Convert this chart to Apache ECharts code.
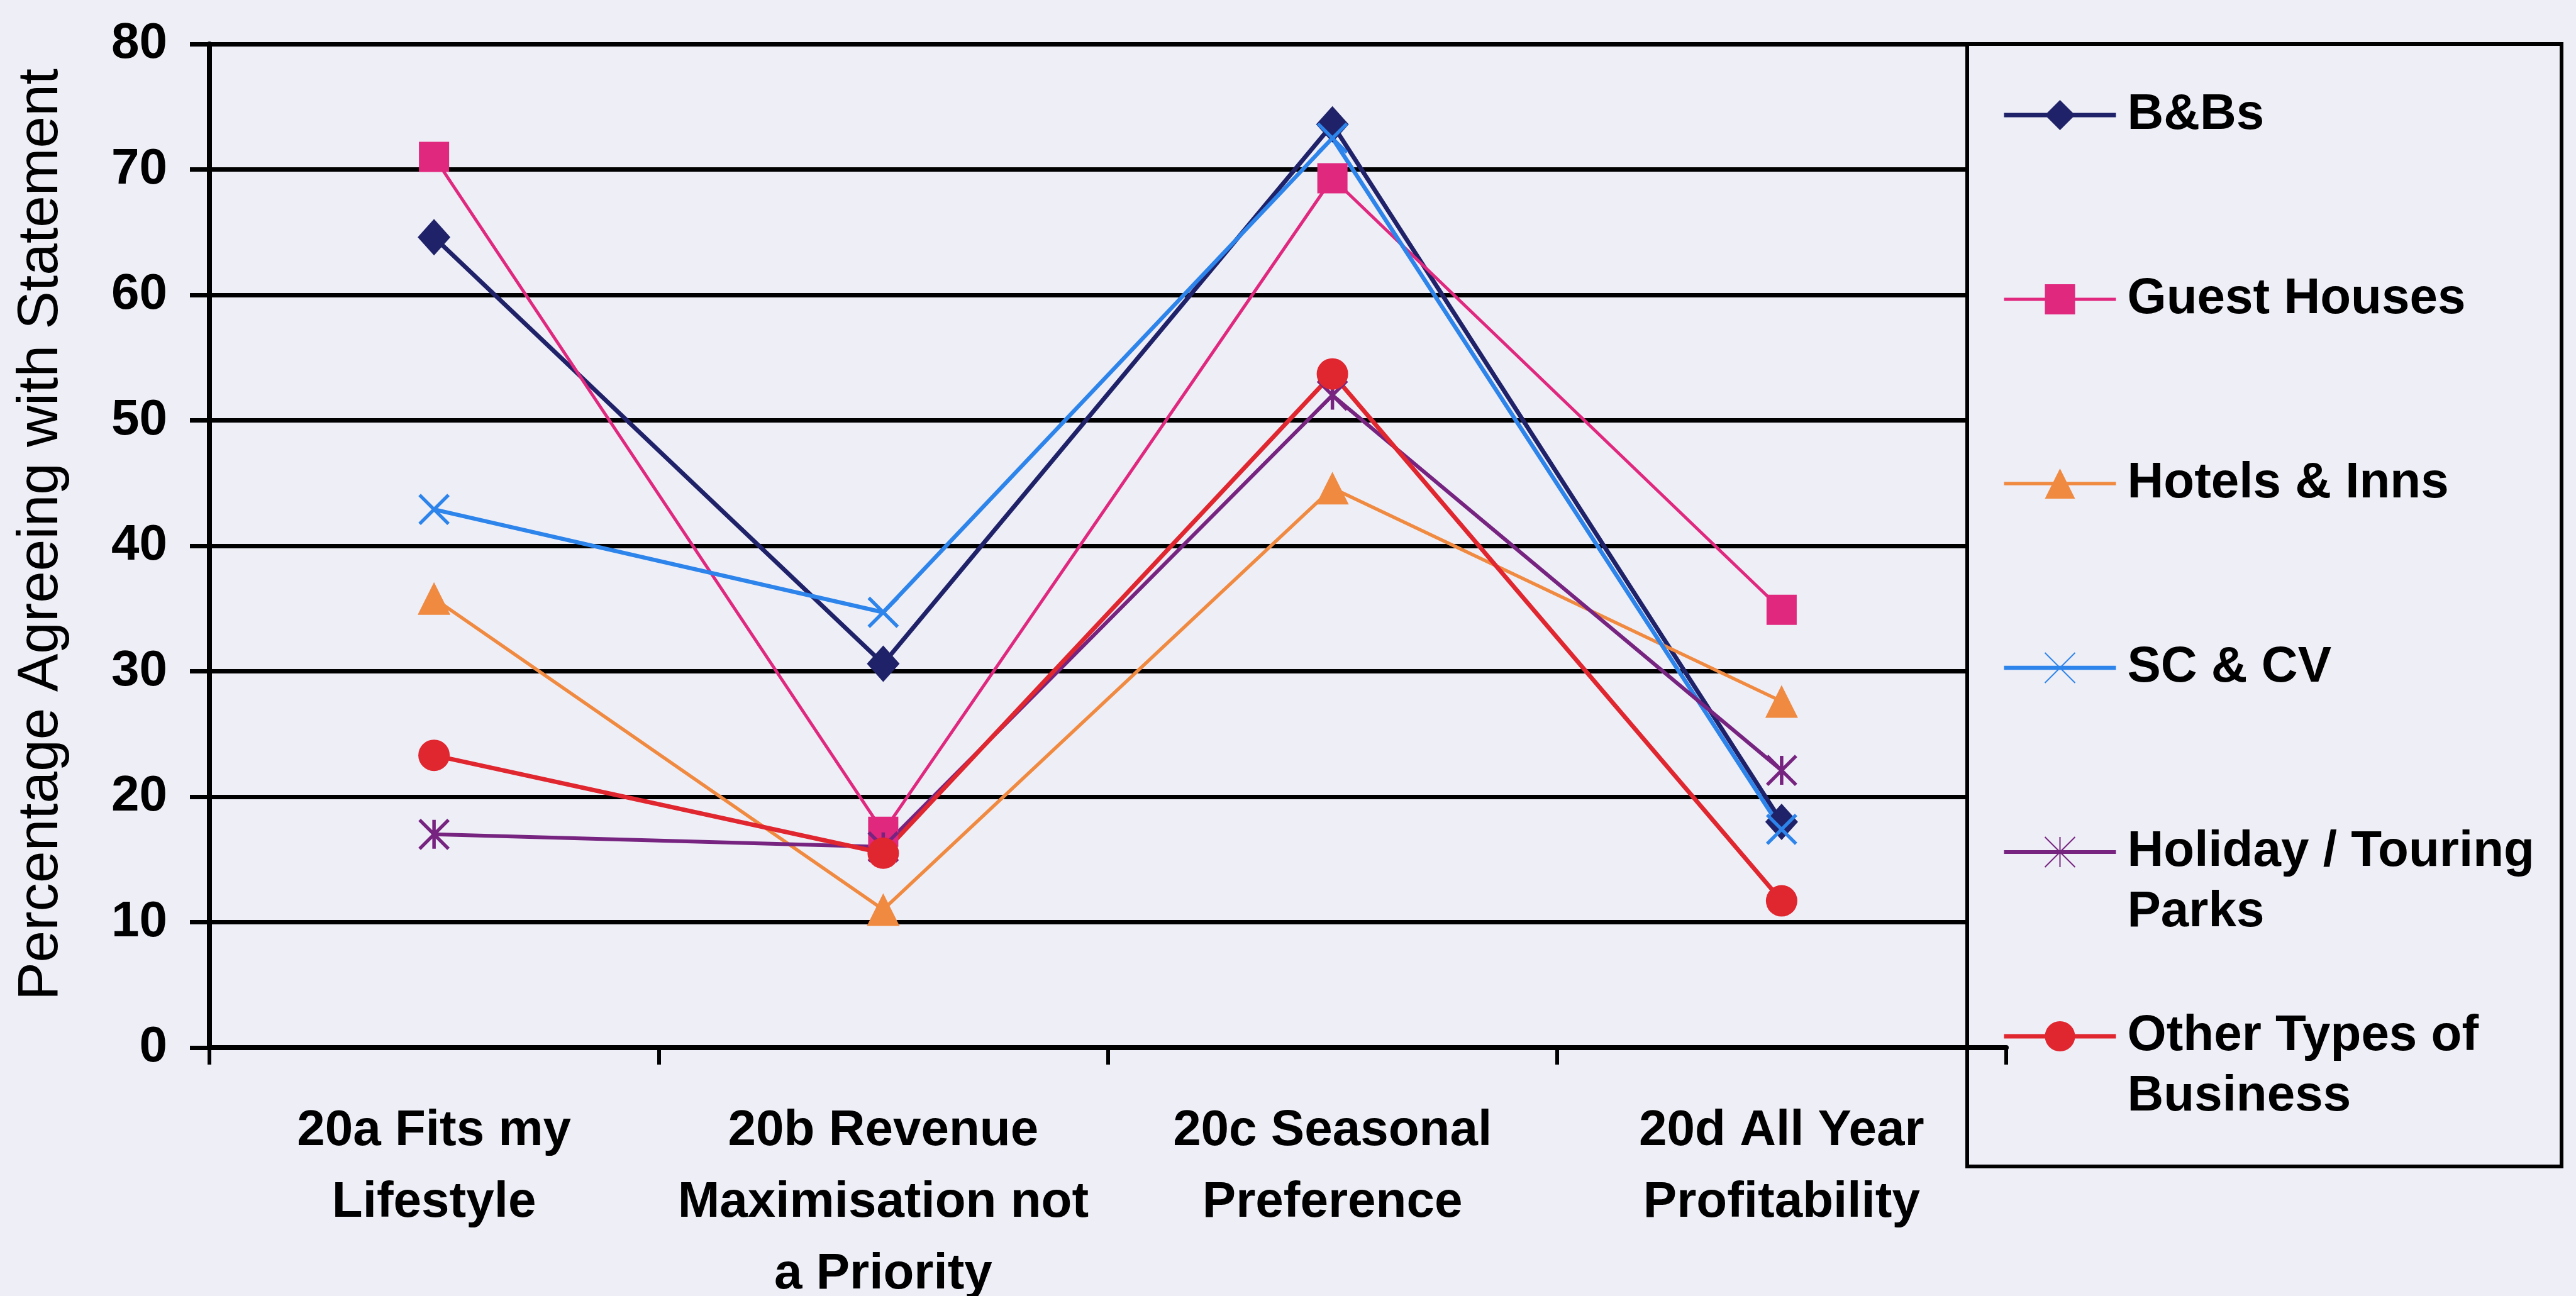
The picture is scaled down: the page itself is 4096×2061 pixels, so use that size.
<!DOCTYPE html>
<html>
<head>
<meta charset="utf-8">
<script src="https://cdn.jsdelivr.net/npm/echarts@6/dist/echarts.min.js"></script>
<style>
  html, body { margin: 0; padding: 0; background: #eeeef7; }
  #chart { width: 4096px; height: 2061px; }
</style>
</head>
<body>
<div id="chart"></div>
<script>
// Survey statements (x axis categories)
const categories = [
  '20a Fits my\nLifestyle',
  '20b Revenue\nMaximisation not\na Priority',
  '20c Seasonal\nPreference',
  '20d All Year\nProfitability'
];

// Value axis range
const yMin = 0;
const yMax = 80;
const yStep = 10;

// Percentage agreeing with each statement, by business type
const bnbs          = [64.6, 30.6, 73.6, 18.0];
const guestHouses   = [71.0, 17.2, 69.3, 34.9];
const hotelsInns    = [35.8, 11.0, 44.6, 27.6];
const scCv          = [42.9, 34.7, 72.5, 17.4];
const holidayParks  = [17.0, 16.0, 52.0, 22.1];
const otherBusiness = [23.3, 15.5, 53.7, 11.7];

const seriesNames = [
  'B&Bs',
  'Guest Houses',
  'Hotels & Inns',
  'SC & CV',
  'Holiday / Touring Parks',
  'Other Types of Business'
];
// How each legend entry wraps
const legendLines = {
  'Holiday / Touring Parks': ['Holiday / Touring', 'Parks'],
  'Other Types of Business': ['Other Types of', 'Business']
};

const FONT = 'Liberation Sans, Arial, Helvetica, sans-serif';
const BG = '#eeeef7';

const crossPath = 'path://M0,0L10,10M10,0L0,10';
const starPath = 'path://M0,0L10,10M10,0L0,10M5,0L5,10';

function lineSeries(name, data, color, width, symbol, size, stroked) {
  return {
    name: name,
    type: 'line',
    data: data,
    symbol: symbol,
    symbolSize: size,
    showAllSymbol: true,
    lineStyle: { color: color, width: width },
    itemStyle: {
      color: color,
      borderColor: color,
      borderWidth: stroked ? 5.5 : 0
    },
    emphasis: { disabled: true },
    animation: false
  };
}

const chart = echarts.init(document.getElementById('chart'), null, { renderer: 'canvas' });

chart.setOption({
  backgroundColor: BG,
  animation: false,
  textStyle: { fontFamily: FONT },
  grid: {
    left: 333,
    top: 70,
    right: 906,
    bottom: 395,
    containLabel: false,
    outerBoundsMode: 'none'
  },
  xAxis: {
    type: 'category',
    data: categories,
    boundaryGap: true,
    z: 3,
    axisLine: { show: true, lineStyle: { color: '#000', width: 8 } },
    axisTick: { show: true, length: 27, lineStyle: { color: '#000', width: 6 } },
    axisLabel: {
      interval: 0,
      margin: 76,
      color: '#000',
      fontFamily: FONT,
      fontSize: 80,
      fontWeight: 'bold',
      lineHeight: 114,
      align: 'center'
    },
    splitLine: { show: false }
  },
  yAxis: {
    type: 'value',
    min: yMin,
    max: yMax,
    interval: yStep,
    z: 0,
    name: 'Percentage Agreeing with Statement',
    nameLocation: 'middle',
    nameGap: 222,
    nameRotate: 90,
    nameTextStyle: {
      color: '#000',
      fontFamily: FONT,
      fontSize: 91,
      fontWeight: 'normal',
      padding: [0, 0, 0, 36]
    },
    axisLine: { show: true, lineStyle: { color: '#000', width: 8 } },
    axisTick: { show: true, length: 31, lineStyle: { color: '#000', width: 7 } },
    axisLabel: {
      margin: 67,
      color: '#000',
      fontFamily: FONT,
      fontSize: 80,
      fontWeight: 'bold'
    },
    splitLine: { show: true, lineStyle: { color: '#000', width: 7 } }
  },
  legend: {
    orient: 'vertical',
    left: 3183,
    top: 39,
    padding: 0,
    itemWidth: 178,
    itemHeight: 60,
    itemGap: 5,
    selectedMode: false,
    z: 4,
    data: seriesNames,
    lineStyle: { width: 'inherit' },
    formatter: function (name) {
      const lines = legendLines[name];
      return lines ? '\n' + lines.join('\n') : '\n' + name + '\n';
    },
    textStyle: {
      color: '#000',
      fontFamily: FONT,
      fontSize: 80,
      fontWeight: 'bold',
      lineHeight: 96,
      padding: [0, 0, 0, 13]
    }
  },
  graphic: {
    elements: [{
      type: 'rect',
      z: 1,
      silent: true,
      shape: { x: 3128, y: 70, width: 945, height: 1785 },
      style: { fill: BG, stroke: '#000', lineWidth: 6 }
    }]
  },
  series: [
    lineSeries(seriesNames[0], bnbs,          '#1f2268', 7,   'diamond',  [52, 58], false),
    lineSeries(seriesNames[1], guestHouses,   '#e0287f', 5,   'rect',     48,       false),
    lineSeries(seriesNames[2], hotelsInns,    '#f08a40', 5.5, 'triangle', 52,       false),
    lineSeries(seriesNames[3], scCv,          '#2d84ea', 6.5, crossPath,  46,       true),
    lineSeries(seriesNames[4], holidayParks,  '#762480', 6,   starPath,   46,       true),
    lineSeries(seriesNames[5], otherBusiness, '#e0262f', 7,   'circle',   50,       false)
  ]
});
</script>
</body>
</html>
